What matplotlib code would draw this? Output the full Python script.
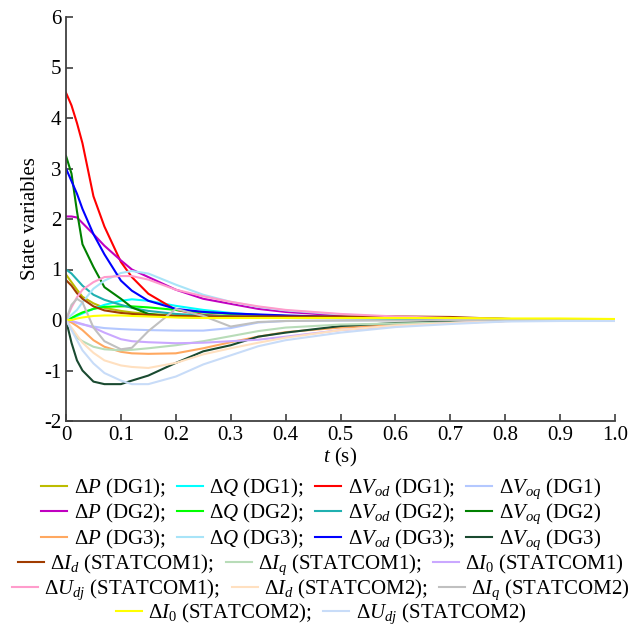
import numpy as np
import matplotlib
matplotlib.use("Agg")
import matplotlib.pyplot as plt

plt.rcParams['font.family'] = ['Liberation Serif', 'DejaVu Serif']
plt.rcParams['mathtext.fontset'] = 'custom'
plt.rcParams['mathtext.rm'] = 'Liberation Serif'
plt.rcParams['mathtext.it'] = 'Liberation Serif:italic'
plt.rcParams['mathtext.bf'] = 'Liberation Serif:bold'
plt.rcParams['axes.unicode_minus'] = False

# time samples (s)
t = [0, .01, .02, .03, .05, .07, .10, .12, .15, .20, .25, .30, .35, .40, .50, .60, .70, .80, .90, 1.0]

# state variable responses
p_dg1   = [0.9, .75, .6, .46, .33, .24, .18, .15, .12, .09, .07, .06, .05, .05, .04, .03, .02, .01, 0, 0]
q_dg1   = [0, .03, .08, .13, .22, .3, .38, .41, .38, .28, .2, .14, .1, .08, .05, .03, .02, .01, 0, 0]
vod_dg1 = [4.5, 4.25, 3.9, 3.5, 2.45, 1.85, 1.15, .85, .52, .2, .1, .07, .06, .06, .05, .05, .04, .02, .01, 0]
voq_dg1 = [0, -.03, -.06, -.09, -.13, -.16, -.18, -.19, -.2, -.21, -.21, -.16, -.05, -.02, -.01, 0, 0, 0, 0, 0]
p_dg2   = [2.05, 2.05, 2.03, 1.92, 1.7, 1.47, 1.18, 1.0, .85, .6, .42, .32, .22, .16, .09, .05, .03, .02, .01, 0]
q_dg2   = [0, .04, .1, .15, .22, .26, .27, .27, .25, .2, .15, .12, .1, .08, .05, .03, .02, .01, 0, 0]
vod_dg2 = [1.0, .92, .8, .68, .5, .4, .3, .24, .18, .12, .09, .07, .06, .05, .04, .03, .02, .01, 0, 0]
voq_dg2 = [3.25, 2.9, 2.15, 1.5, 1.05, .65, .42, .25, .12, .06, .05, .05, .05, .05, .05, .05, .04, .02, .01, 0]
p_dg3   = [0, -.05, -.12, -.2, -.4, -.53, -.63, -.66, -.67, -.66, -.56, -.44, -.33, -.24, -.15, -.1, -.06, -.02, -.01, 0]
q_dg3   = [0, .1, .2, .35, .62, .78, .93, .97, .92, .7, .5, .36, .26, .19, .11, .06, .04, .02, .01, 0]
vod_dg3 = [3.0, 2.75, 2.5, 2.2, 1.7, 1.3, .78, .58, .38, .22, .16, .13, .11, .09, .06, .04, .03, .02, .01, 0]
voq_dg3 = [0, -.45, -.8, -1.0, -1.22, -1.27, -1.27, -1.2, -1.1, -.85, -.62, -.5, -.33, -.25, -.12, -.06, -.03, -.01, 0, 0]
id_s1   = [.79, .68, .53, .42, .27, .19, .14, .12, .1, .08, .07, .07, .07, .07, .07, .07, .06, .02, .01, 0]
iq_s1   = [0, -.18, -.35, -.42, -.53, -.58, -.6, -.59, -.56, -.5, -.42, -.32, -.22, -.15, -.09, -.07, -.05, -.02, -.01, 0]
i0_s1   = [0, -.02, -.05, -.08, -.15, -.25, -.38, -.42, -.44, -.46, -.45, -.42, -.39, -.33, -.2, -.12, -.06, -.02, -.01, 0]
udj_s1  = [0, .25, .45, .6, .75, .85, .87, .87, .8, .6, .47, .36, .27, .2, .12, .07, .04, .02, .01, 0]
id_s2   = [0, -.15, -.3, -.45, -.65, -.8, -.9, -.93, -.95, -.85, -.68, -.56, -.45, -.35, -.2, -.11, -.06, -.02, -.01, 0]
iq_s2   = [0, .3, .42, .35, -.15, -.42, -.58, -.55, -.22, .22, .08, -.13, -.04, -.02, -.01, -.01, 0, 0, 0, 0]
i0_s2   = [0, 0, .03, .05, .08, .09, .09, .08, .07, .05, .04, .04, .04, .04, .04, .04, .04, .03, .03, .02]
udj_s2  = [0, -.2, -.4, -.6, -.86, -1.05, -1.2, -1.27, -1.27, -1.12, -.88, -.7, -.52, -.4, -.25, -.14, -.08, -.03, -.02, -.02]

series = [p_dg1, q_dg1, vod_dg1, voq_dg1,
          p_dg2, q_dg2, vod_dg2, voq_dg2,
          p_dg3, q_dg3, vod_dg3, voq_dg3,
          id_s1, iq_s1, i0_s1, udj_s1,
          id_s2, iq_s2, i0_s2, udj_s2]

labels = [r'$\Delta P$ (DG1);', r'$\Delta Q$ (DG1);', r'$\Delta V_{od}$ (DG1);', r'$\Delta V_{oq}$ (DG1)',
          r'$\Delta P$ (DG2);', r'$\Delta Q$ (DG2);', r'$\Delta V_{od}$ (DG2);', r'$\Delta V_{oq}$ (DG2)',
          r'$\Delta P$ (DG3);', r'$\Delta Q$ (DG3);', r'$\Delta V_{od}$ (DG3);', r'$\Delta V_{oq}$ (DG3)',
          r'$\Delta I_d$ (STATCOM1);', r'$\Delta I_q$ (STATCOM1);', r'$\Delta I_0$ (STATCOM1)',
          r'$\Delta U_{dj}$ (STATCOM1);', r'$\Delta I_d$ (STATCOM2);', r'$\Delta I_q$ (STATCOM2)',
          r'$\Delta I_0$ (STATCOM2);', r'$\Delta U_{dj}$ (STATCOM2)']

colors = ['#bcbc00', '#00ffff', '#ff0000', '#b4c8ff',
          '#c000c0', '#00ff00', '#20b0b0', '#008000',
          '#ffa860', '#a8e4f8', '#0000ff', '#1a4a30',
          '#a03c00', '#b8dcb8', '#caa8ff', '#ff9ccc',
          '#ffe0c0', '#c0c0c0', '#ffff00', '#c8dcf8']

xticks = [0, .1, .2, .3, .4, .5, .6, .7, .8, .9, 1.0]
xticklabels = ['0', '0.1', '0.2', '0.3', '0.4', '0.5', '0.6', '0.7', '0.8', '0.9', '1.0']
yticks = [-2, -1, 0, 1, 2, 3, 4, 5, 6]

# legend rows (number of entries per row)
rows = [4, 4, 4, 3, 3, 2]
row_y = [489, 514, 540, 565, 590, 614]

fig = plt.figure(figsize=(6.42, 6.27), dpi=100)
ax = fig.add_axes([66/642, 1-421/627, (615-66)/642, (421-17)/627])

lines = []
for s, lab, c in zip(series, labels, colors):
    ln, = ax.plot(t, s, color=c, lw=1.5, label=lab)
    lines.append(ln)

ax.set_xlim(0, 1.0)
ax.set_ylim(-2, 6)
ax.set_xticks(xticks)
ax.set_xticklabels(xticklabels)
ax.set_yticks(yticks)
for sp in ['top', 'right']:
    ax.spines[sp].set_visible(False)
for sp in ['left', 'bottom']:
    ax.spines[sp].set_color('#404040')
    ax.spines[sp].set_linewidth(1.3)
ax.tick_params(direction='in', length=5, width=1.2, color='#404040', labelsize=15)
ax.set_xlabel(r'$t$ (s)', fontsize=15, labelpad=1)
ax.set_ylabel('State variables', fontsize=15, labelpad=3)

i = 0
for n, y in zip(rows, row_y):
    fig.legend(handles=lines[i:i+n], loc='center', bbox_to_anchor=(0.5, 1-y/627),
               ncol=n, frameon=False, fontsize=15, handlelength=1.25,
               handletextpad=0.3, columnspacing=0.55, borderpad=0, borderaxespad=0)
    i += n

fig.savefig('out.png', dpi=100)
